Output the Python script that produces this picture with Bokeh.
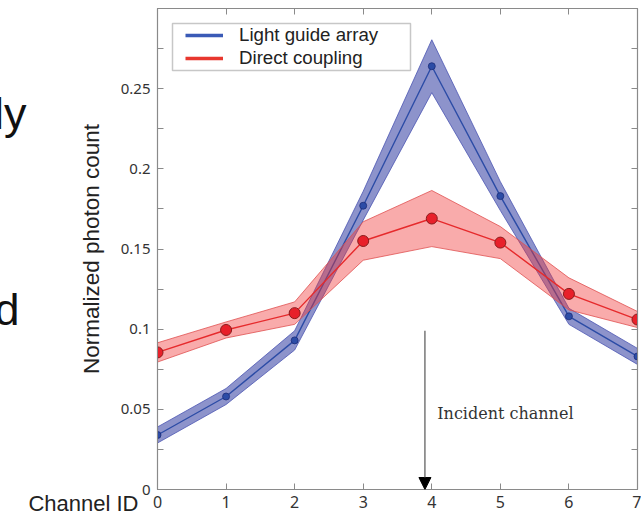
from bokeh.plotting import figure
from bokeh.models import (Range1d, LinearAxis, FixedTicker, Label, Arrow, NormalHead,
                          Legend, LegendItem, ColumnDataSource, BoxAnnotation)
from bokeh.embed import file_html
from bokeh.resources import INLINE

# ---------------- data ----------------
channels = [0, 1, 2, 3, 4, 5, 6, 7]
lga_mean = [0.034, 0.058, 0.093, 0.177, 0.264, 0.183, 0.108, 0.083]
lga_err = [0.005, 0.005, 0.006, 0.009, 0.0165, 0.009, 0.005, 0.005]
dc_mean = [0.0855, 0.0995, 0.110, 0.155, 0.169, 0.154, 0.122, 0.106]
dc_err = [0.006, 0.005, 0.007, 0.012, 0.0175, 0.010, 0.010, 0.005]
series_names = ["Light guide array", "Direct coupling"]
y_ticks = [0, 0.025, 0.05, 0.075, 0.1, 0.125, 0.15, 0.175, 0.2, 0.225, 0.25, 0.275, 0.3]
y_tick_labels = {0: "0", 0.05: "0.05", 0.1: "0.1", 0.15: "0.15", 0.2: "0.2", 0.25: "0.25"}
incident_channel = 3.9
incident_text = "Incident channel"
x_title = "Channel ID"
slide_fragments = ["ly", "d"]

# ---------------- styles / placement ----------------
BLUE_LINE = "#2c4ca6"
BLUE_FILL = "#2f3aa0"
BLUE_EDGE = "#4b56b2"
RED_LINE = "#e62a2c"
RED_FILL = "#f03838"
RED_EDGE = "#e05050"
AXIS = "#8a8a8a"
TICK_FONT = "Noto Sans"
SANS = "Liberation Sans"
SHIFT = 12          # the slide is cropped: the left part of the figure lies outside the window
LY_POS = 0.2342     # vertical anchor of the cropped slide text "ly"
D_POS = 0.1123      # vertical anchor of the cropped slide text "d"

p = figure(width=641 + SHIFT, height=516, output_backend="svg", toolbar_location=None,
           x_range=Range1d(0, 7), y_range=Range1d(0, 0.3),
           min_border_left=157 + SHIFT, min_border_right=4, min_border_top=8, min_border_bottom=27)
p.styles = {"margin-left": f"-{SHIFT}px"}
p.grid.visible = False
p.outline_line_color = AXIS
p.outline_line_width = 1.2
p.background_fill_color = "white"
p.border_fill_color = "white"

lo_b = [m - e for m, e in zip(lga_mean, lga_err)]
hi_b = [m + e for m, e in zip(lga_mean, lga_err)]
lo_r = [m - e for m, e in zip(dc_mean, dc_err)]
hi_r = [m + e for m, e in zip(dc_mean, dc_err)]

src_b = ColumnDataSource(dict(x=channels, y=lga_mean, lo=lo_b, hi=hi_b))
src_r = ColumnDataSource(dict(x=channels, y=dc_mean, lo=lo_r, hi=hi_r))

# blue band and line
p.varea(x="x", y1="lo", y2="hi", source=src_b, fill_color=BLUE_FILL, fill_alpha=0.55)
p.line("x", "lo", source=src_b, line_color=BLUE_EDGE, line_width=0.8)
p.line("x", "hi", source=src_b, line_color=BLUE_EDGE, line_width=0.8)
p.line("x", "y", source=src_b, line_color=BLUE_LINE, line_width=1.4)
p.scatter("x", "y", source=src_b, size=7, fill_color=BLUE_LINE, line_color="#1c2c78", line_width=0.8)

# red band and line
p.varea(x="x", y1="lo", y2="hi", source=src_r, fill_color=RED_FILL, fill_alpha=0.42)
p.line("x", "lo", source=src_r, line_color=RED_EDGE, line_width=0.8)
p.line("x", "hi", source=src_r, line_color=RED_EDGE, line_width=0.8)
p.line("x", "y", source=src_r, line_color=RED_LINE, line_width=1.4)
p.scatter("x", "y", source=src_r, size=11, fill_color="#e8202a", line_color="#8a1c1c", line_width=1)

# legend box drawn separately so the inner left padding can be larger
p.add_layout(BoxAnnotation(left=15, right=253, bottom=419, top=466,
                           left_units="screen", right_units="screen",
                           bottom_units="screen", top_units="screen",
                           fill_color="white", fill_alpha=1.0,
                           line_color="#444444", line_width=1.5))
leg_b = p.line("x", "y", source=src_b, line_color="#3a5ab6", line_width=3.5, visible=False)
leg_r = p.line("x", "y", source=src_r, line_color="#e8372e", line_width=3.5, visible=False)
legend = Legend(items=[LegendItem(label=series_names[0], renderers=[leg_b]),
                       LegendItem(label=series_names[1], renderers=[leg_r])],
                location=(28, 420), padding=0, spacing=1, margin=0,
                glyph_width=38, glyph_height=22, label_height=22,
                label_standoff=16, label_text_font=SANS, label_text_font_size="18.7px",
                label_text_color="#222222", border_line_color=None,
                background_fill_alpha=0.0, inactive_fill_alpha=0.0, click_policy="none")
p.add_layout(legend)

# axes
def style_axis(ax, ticks, font_size="15px"):
    ax.ticker = FixedTicker(ticks=ticks)
    ax.axis_line_color = AXIS
    ax.major_tick_line_color = AXIS
    ax.major_tick_in = 6
    ax.major_tick_out = 0
    ax.minor_tick_line_color = None
    ax.major_label_text_font = TICK_FONT
    ax.major_label_text_font_size = font_size
    ax.major_label_text_color = "#333333"

xax = p.xaxis[0]
style_axis(xax, channels, "16px")
xax.major_label_standoff = 6
xax.major_label_overrides = {c: str(c) for c in channels}

yax = p.yaxis[0]
style_axis(yax, y_ticks)
yax.major_label_standoff = 7
yax.major_label_overrides = {t: y_tick_labels.get(round(t, 3), "") for t in y_ticks}
yax.axis_label = "Normalized photon count"
yax.axis_label_text_font = SANS
yax.axis_label_text_font_size = "22.5px"
yax.axis_label_text_font_style = "normal"
yax.axis_label_text_color = "#222222"
yax.axis_label_standoff = 14

top = LinearAxis()
style_axis(top, channels, "0px")
top.major_label_standoff = 0
top.major_label_overrides = {c: "" for c in channels}
p.add_layout(top, "above")

right = LinearAxis()
style_axis(right, y_ticks, "0px")
right.major_label_standoff = 0
right.major_label_overrides = {t: "" for t in y_ticks}
p.add_layout(right, "right")

# texts that sit outside the frame are drawn as tick labels of bare extra left axes
def text_axis(tick, text, size, standoff, color="#222222"):
    ax = LinearAxis(ticker=FixedTicker(ticks=[tick]), major_label_overrides={tick: text})
    ax.axis_line_color = None
    ax.major_tick_line_color = None
    ax.minor_tick_line_color = None
    ax.major_tick_in = 0
    ax.major_tick_out = 0
    ax.major_label_standoff = standoff
    ax.major_label_text_font = SANS
    ax.major_label_text_font_size = size
    ax.major_label_text_color = color
    p.add_layout(ax, "left")
    return ax

text_axis(0, "\n" + x_title, "22px", -63)
text_axis(D_POS, slide_fragments[1], "45px", 6, "#111111")
text_axis(LY_POS, slide_fragments[0], "45px", -35, "#111111")

# incident channel arrow and label
p.add_layout(Arrow(end=NormalHead(size=12, fill_color="black", line_color="black"),
                   x_start=incident_channel, y_start=0.099, x_end=incident_channel, y_end=0.0,
                   line_color="#555555", line_width=1.2))
p.add_layout(Label(x=4.08, y=0.0475, text=incident_text, text_font="DejaVu Serif",
                   text_font_size="16px", text_color="#333333", text_baseline="alphabetic"))

open("out.html", "w").write(file_html(p, INLINE))
